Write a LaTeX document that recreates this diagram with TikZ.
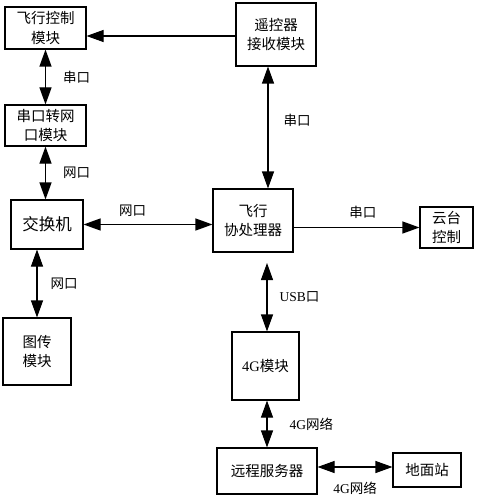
\documentclass[tikz,border=0pt]{standalone}
\usepackage{fontspec}
\setmainfont{Liberation Serif}
\newfontfamily\cjk{Noto Sans CJK SC}
\usetikzlibrary{arrows.meta,positioning}

\tikzset{
	box/.style={draw=black, line width=1.1pt, align=center, inner sep=1pt, font=\cjk\fontsize{14.5}{19.5}\selectfont},
	lab/.style={inner sep=0pt, font=\cjk\fontsize{13.5}{16}\selectfont},
	link/.style={line width=1.1pt, {Triangle[length=17pt,width=12pt]}-{Triangle[length=17pt,width=12pt]}},
	onelink/.style={line width=1.1pt, -{Triangle[length=17pt,width=12pt]}}
}

\begin{document}
\begin{tikzpicture}[x=1pt,y=-1pt]
		\useasboundingbox (0,0) rectangle (478,500);
		
		%boxes
		\node[box, minimum width=81pt, minimum height=42pt] (fc) at (45.5,28) {飞行控制\\模块};
		\node[box, minimum width=80pt, minimum height=63pt] (rc) at (276,34.5) {遥控器\\接收模块};
		\node[box, minimum width=81pt, minimum height=41pt] (sn) at (45.5,125.5) {串口转网\\口模块};
		\node[box, minimum width=72pt, minimum height=49pt, font=\cjk\fontsize{16.5}{20}\selectfont] (sw) at (47,224.5) {交换机};
		\node[box, minimum width=80pt, minimum height=63pt] (cp) at (253,220.5) {飞行\\协处理器};
		\node[box, minimum width=53pt, minimum height=41pt] (gb) at (446.5,227.5) {云台\\控制};
		\node[box, minimum width=68pt, minimum height=67pt] (tx) at (37,351.5) {图传\\模块};
		\node[box, minimum width=67pt, minimum height=68pt] (g4) at (265.5,366) {{\rmfamily 4G}模块};
		\node[box, minimum width=100pt, minimum height=46pt] (rs) at (267,471) {远程服务器};
		\node[box, minimum width=68pt, minimum height=34pt] (gs) at (427,470) {地面站};
		
		%links
		\draw[onelink] ([yshift=-1.5pt]rc.west) -- ([yshift=-1.5pt]rc.west -| fc.east);
		\draw[link] (fc.south) -- node[lab, right=17pt] (l1) {串口} (sn.north);
		\draw[link] (sn.south) -- node[lab, right=17pt] (l2) {网口} (sn.south |- sw.north);
		\draw[link] (sw.east) -- node[lab, above=7pt, pos=0.38] (l3) {网口} (sw.east -| cp.west);
		\draw[link] ([xshift=-8pt]rc.south) -- node[lab, right=15pt, pos=0.44] (l4) {串口} ([xshift=-8pt]rc.south |- cp.north);
		\draw[onelink] (cp.east |- gb.west) -- node[lab, above=8pt, pos=0.55] (l5) {串口} (gb.west);
		\draw[link] (tx.north |- sw.south) -- node[lab, right=13pt] (l6) {网口} (tx.north);
		
		%4g side
		\coordinate (usb) at (267,263);
		\draw[link] (usb) -- node[lab, right=12pt] (l7) {{\rmfamily USB}口} (usb |- g4.north);
		\draw[link] (rs.north |- g4.south) -- node[lab, right=22pt] (l8) {{\rmfamily 4G}网络} (rs.north);
		\draw[link] ([yshift=3pt]gs.west -| rs.east) -- node[lab, below=14pt] (l9) {{\rmfamily 4G}网络} ([yshift=3pt]gs.west);
		
\end{tikzpicture}
\end{document}
